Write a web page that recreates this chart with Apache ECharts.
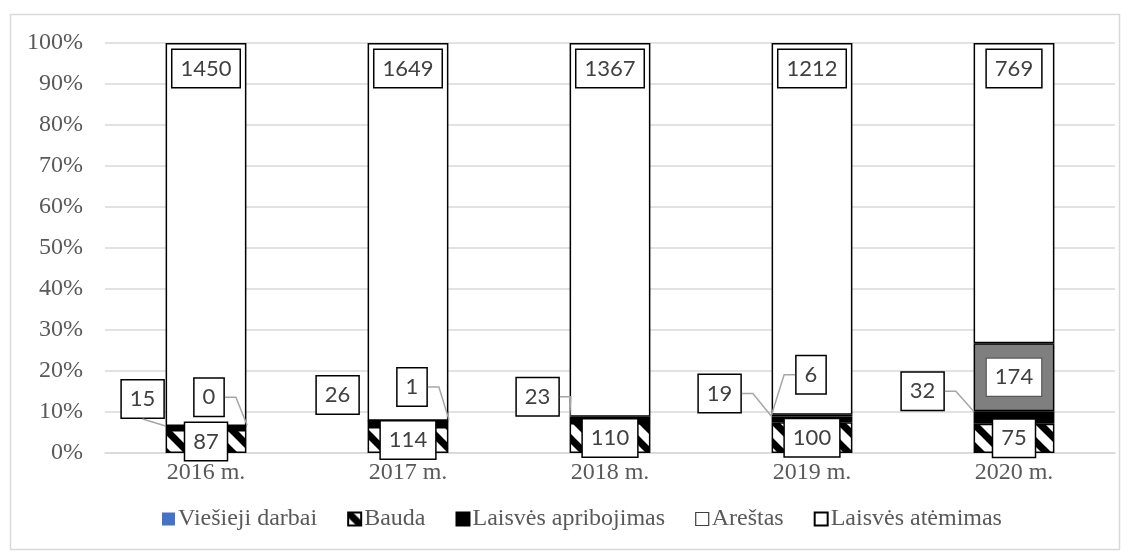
<!DOCTYPE html>
<html>
<head>
<meta charset="utf-8">
<script src="https://cdn.jsdelivr.net/npm/echarts@6/dist/echarts.min.js"></script>
<style>
html, body { margin: 0; padding: 0; background: #fff; }
#chart { width: 1130px; height: 560px; }
</style>
</head>
<body>
<div id="chart"></div>
<script>
// Bausmių rūšys pagal metus (absoliutūs skaičiai)
const years = ['2016 m.', '2017 m.', '2018 m.', '2019 m.', '2020 m.'];
const viesiejiDarbai = [0, 0, 0, 0, 0];
const bauda = [87, 114, 110, 100, 75];
const laisvesApribojimas = [15, 26, 23, 19, 32];
const arestas = [0, 1, null, 6, 174];
const laisvesAtemimas = [1450, 1649, 1367, 1212, 769];
const yTicks = [0, 10, 20, 30, 40, 50, 60, 70, 80, 90, 100];

const serif = '"Liberation Serif", "Times New Roman", serif';
const sans = 'Lato, "Open Sans", sans-serif';

const totals = years.map((_, i) =>
  [viesiejiDarbai, bauda, laisvesApribojimas, arestas, laisvesAtemimas]
    .reduce((s, a) => s + (a[i] || 0), 0));
const pct = (arr) => arr.map((v, i) => (v == null ? null : v / totals[i] * 100));

// diagonal hatch fill for "Bauda"
function hatchPattern() {
  const s = 22;
  const c = document.createElement('canvas');
  c.width = s; c.height = s;
  const g = c.getContext('2d');
  g.fillStyle = '#fff';
  g.fillRect(0, 0, s, s);
  g.strokeStyle = '#000';
  g.lineWidth = 7;
  g.lineCap = 'square';
  [-s, 0, s].forEach(o => {
    g.beginPath();
    g.moveTo(o - 2, -2);
    g.lineTo(o + s + 2, s + 2);
    g.stroke();
  });
  return c;
}

// boxed data label look
const boxLabel = {
  show: true,
  color: '#404040',
  fontFamily: sans,
  fontSize: 22,
  lineHeight: 25,
  backgroundColor: '#fff',
  borderColor: '#000',
  borderWidth: 1.5,
  padding: [6, 8]
};

// callout placement (relative to the bar segment)
const sideDX = [-23, -30, -32, -52, -51];
const sideDY = [-27, -26, -20, -23, -20];
const sideLeader = ['bottom', null, 'side', 'side', 'side'];
const topDX = [3, 4, 0, -1, 0];
const topDY = [-28, -33, -30, -40, 0];
const topSide = [1, 1, 1, -1, 1]; // which bar corner the leader goes to

const rawOf = (arr) => (p) => String(arr[p.dataIndex]);
const barBorder = { borderColor: '#000', borderWidth: 1.5 };

// leader lines collected while labels are being laid out
const leaders = {};

const arestasData = pct(arestas).map((v, i) => {
  if (i === years.length - 1) {
    return {
      value: v,
      itemStyle: { color: '#7f7f7f' },
      label: { position: 'inside', borderColor: '#595959', borderWidth: 1.2 }
    };
  }
  return v;
});

const frame = {
  type: 'rect',
  shape: { x: 10.5, y: 14.5, width: 1109, height: 535 },
  style: { fill: 'none', stroke: '#d9d9d9', lineWidth: 1.5 },
  silent: true,
  z: -1
};

const option = {
  animation: false,
  backgroundColor: '#fff',
  graphic: [frame],
  grid: { left: 105, right: 15, top: 43, bottom: 107, containLabel: false },
  legend: {
    left: 162,
    top: 507,
    itemWidth: 13,
    itemHeight: 13,
    itemGap: 30,
    padding: 0,
    textStyle: { fontFamily: serif, fontSize: 24, color: '#595959', padding: [0, 0, 0, -2] },
    data: [
      { name: 'Viešieji darbai', icon: 'rect' },
      { name: 'Bauda', icon: 'rect' },
      { name: 'Laisvės apribojimas', icon: 'rect' },
      { name: 'Areštas', icon: 'rect', itemStyle: { borderColor: '#404040', borderWidth: 1.2 } },
      { name: 'Laisvės atėmimas', icon: 'rect' }
    ]
  },
  xAxis: {
    type: 'category',
    data: years,
    axisTick: { show: false },
    axisLine: { lineStyle: { color: '#d9d9d9', width: 1.5 } },
    axisLabel: { fontFamily: serif, fontSize: 24, color: '#595959', margin: 8 }
  },
  yAxis: {
    type: 'value',
    min: yTicks[0],
    max: yTicks[yTicks.length - 1],
    interval: yTicks[1] - yTicks[0],
    axisLine: { show: false },
    axisTick: { show: false },
    splitLine: { lineStyle: { color: '#d9d9d9', width: 1.5 } },
    axisLabel: { fontFamily: serif, fontSize: 24, color: '#595959', margin: 22, formatter: '{value}%' }
  },
  series: [
    {
      name: 'Viešieji darbai',
      type: 'bar',
      stack: 'total',
      barWidth: '40%',
      data: pct(viesiejiDarbai),
      itemStyle: { color: '#4472c4' },
      label: { show: false }
    },
    {
      name: 'Bauda',
      type: 'bar',
      stack: 'total',
      data: pct(bauda),
      itemStyle: Object.assign({ color: { image: hatchPattern(), repeat: 'repeat' } }, barBorder),
      label: Object.assign({}, boxLabel, { position: 'inside', formatter: rawOf(bauda) })
    },
    {
      name: 'Laisvės apribojimas',
      type: 'bar',
      stack: 'total',
      data: pct(laisvesApribojimas),
      itemStyle: Object.assign({ color: '#000' }, barBorder),
      label: Object.assign({}, boxLabel, { position: 'inside', formatter: rawOf(laisvesApribojimas) }),
      labelLayout: (p) => {
        const i = p.dataIndex;
        const cx = p.rect.x + sideDX[i];
        const cy = p.rect.y + sideDY[i];
        const ex = cx + p.labelRect.width / 2;
        const by = cy + p.labelRect.height / 2;
        if (sideLeader[i] === 'side') {
          leaders['a' + i] = [[ex, cy], [ex + 11, cy], [p.rect.x, p.rect.y]];
        } else if (sideLeader[i] === 'bottom') {
          leaders['a' + i] = [[cx, by], [p.rect.x, p.rect.y]];
        }
        return { x: cx, y: cy, align: 'center', verticalAlign: 'middle' };
      }
    },
    {
      name: 'Areštas',
      type: 'bar',
      stack: 'total',
      data: arestasData,
      itemStyle: Object.assign({ color: '#fff' }, barBorder),
      label: Object.assign({}, boxLabel, { position: 'inside', formatter: rawOf(arestas) }),
      labelLayout: (p) => {
        const i = p.dataIndex;
        if (i === years.length - 1) return {};
        const cx = p.rect.x + p.rect.width / 2 + topDX[i];
        const cy = p.rect.y + topDY[i];
        const s = topSide[i];
        const ex = cx + s * p.labelRect.width / 2;
        const tx = s > 0 ? p.rect.x + p.rect.width : p.rect.x;
        leaders['r' + i] = [[ex, cy], [ex + s * 11, cy], [tx, p.rect.y]];
        return { x: cx, y: cy, align: 'center', verticalAlign: 'middle' };
      }
    },
    {
      name: 'Laisvės atėmimas',
      type: 'bar',
      stack: 'total',
      data: pct(laisvesAtemimas),
      itemStyle: Object.assign({ color: '#fff' }, barBorder),
      label: Object.assign({}, boxLabel, { position: 'insideTop', distance: 7, formatter: rawOf(laisvesAtemimas) })
    }
  ]
};

const chart = echarts.init(document.getElementById('chart'), null, { renderer: 'canvas' });
chart.setOption(option);

// leader lines from the callout boxes to their bar segments
const lines = Object.keys(leaders).map(k => ({
  type: 'polyline',
  shape: { points: leaders[k] },
  style: { stroke: '#a6a6a6', lineWidth: 1.5, fill: 'none' },
  silent: true,
  z: 10
}));
chart.setOption({ graphic: [frame].concat(lines) });
</script>
</body>
</html>
